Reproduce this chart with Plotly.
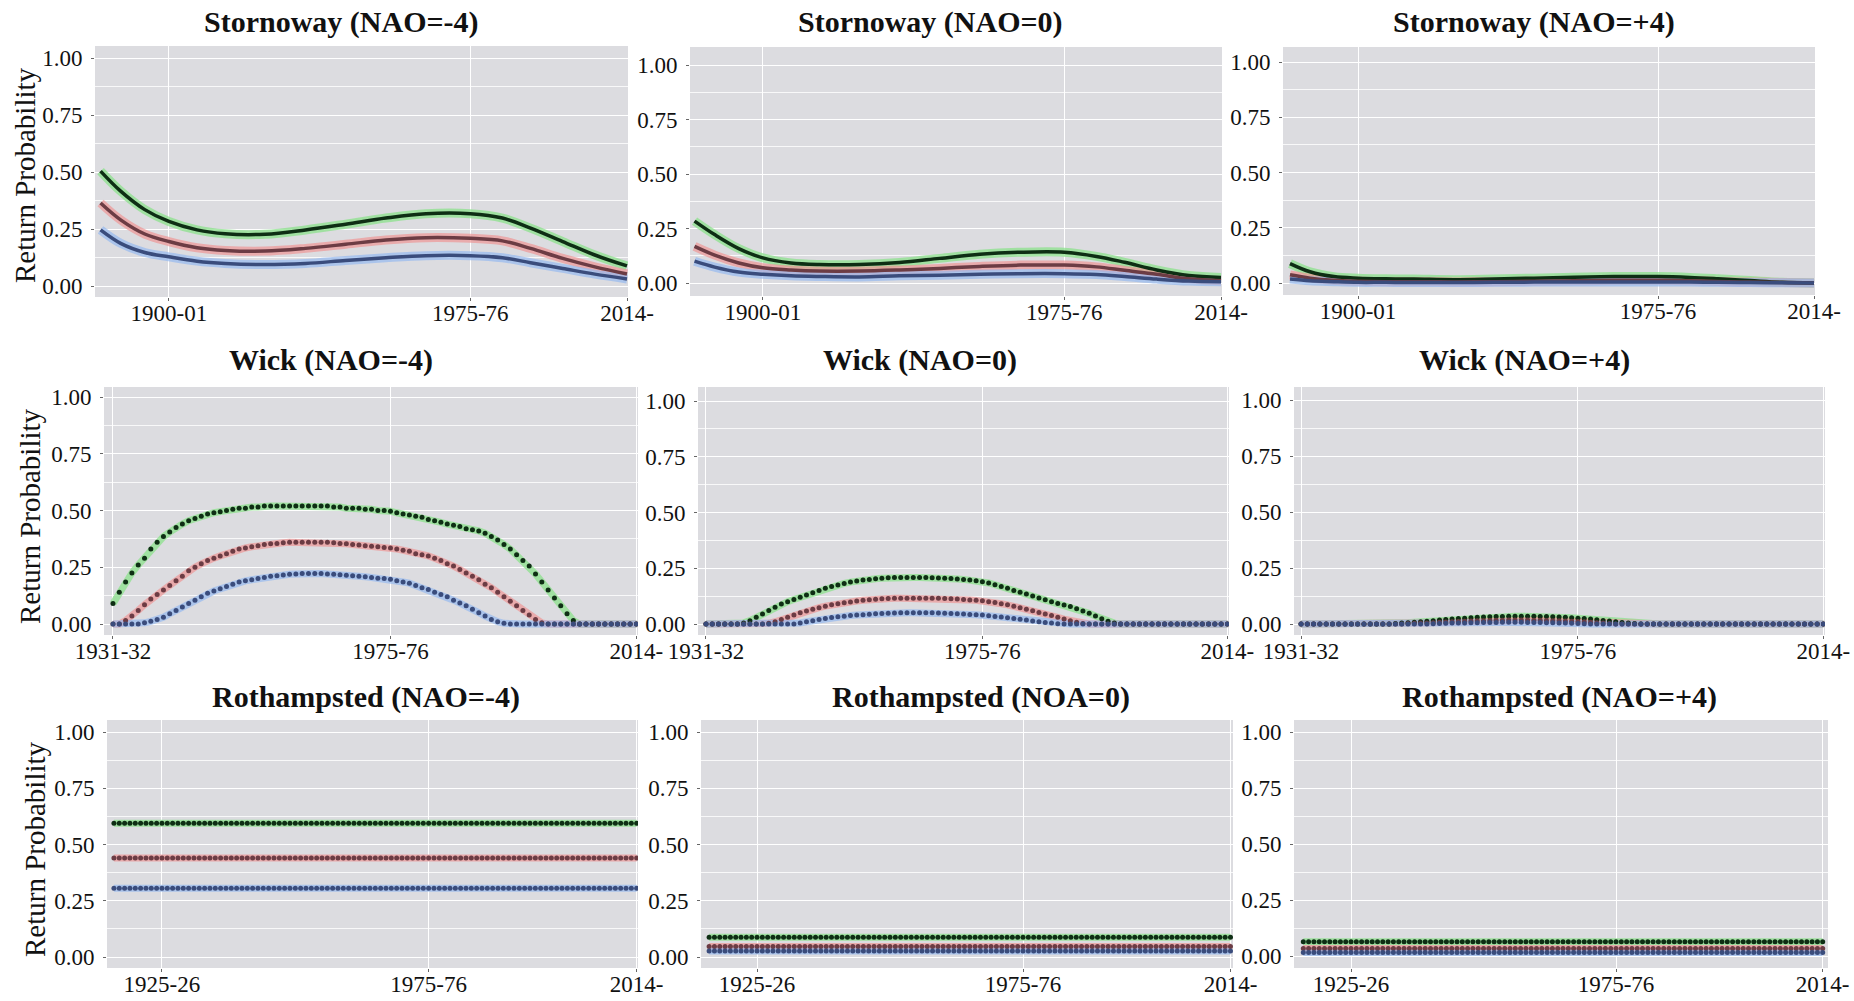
import plotly.graph_objects as go

W, H = 1854, 1001

# ------------------------------------------------------------------ data
# Stornoway: smooth curves, values read at selected seasons
STORN_YEARS = [1883, 1888, 1894, 1900, 1907, 1914, 1924, 1934, 1944, 1954,
               1964, 1975, 1983, 1990, 1998, 2006, 2014]
STORN_M4_HIGH = [0.504, 0.416, 0.335, 0.283, 0.246, 0.229, 0.227, 0.246, 0.271, 0.298,
                 0.317, 0.317, 0.298, 0.254, 0.195, 0.136, 0.088]
STORN_M4_MID = [0.364, 0.290, 0.228, 0.195, 0.168, 0.156, 0.153, 0.165, 0.183, 0.202,
                0.212, 0.209, 0.198, 0.165, 0.121, 0.084, 0.053]
STORN_M4_LOW = [0.246, 0.187, 0.147, 0.128, 0.109, 0.099, 0.094, 0.099, 0.112, 0.124,
                0.133, 0.133, 0.124, 0.102, 0.077, 0.052, 0.031]
STORN_0_HIGH = [0.284, 0.222, 0.158, 0.115, 0.092, 0.085, 0.085, 0.094, 0.113, 0.132,
                0.141, 0.141, 0.122, 0.095, 0.060, 0.034, 0.025]
STORN_0_MID = [0.168, 0.128, 0.092, 0.070, 0.060, 0.055, 0.055, 0.060, 0.067, 0.076,
               0.082, 0.082, 0.074, 0.058, 0.040, 0.019, 0.010]
STORN_0_LOW = [0.100, 0.073, 0.050, 0.040, 0.033, 0.030, 0.028, 0.033, 0.036, 0.040,
               0.043, 0.043, 0.039, 0.030, 0.018, 0.009, 0.006]
STORN_P4_HIGH = [0.088, 0.051, 0.029, 0.022, 0.019, 0.018, 0.015, 0.018, 0.022, 0.026,
                 0.029, 0.029, 0.025, 0.019, 0.011, 0.003, 0.000]
STORN_P4_MID = [0.037, 0.022, 0.012, 0.008, 0.006, 0.006, 0.005, 0.006, 0.008, 0.010,
                0.012, 0.012, 0.010, 0.007, 0.004, 0.002, 0.000]
STORN_P4_LOW = [0.018, 0.010, 0.006, 0.003, 0.003, 0.002, 0.002, 0.003, 0.004, 0.005,
                0.005, 0.005, 0.004, 0.003, 0.002, 0.001, 0.000]

# Wick: one point per season, 1931-32 .. 2014-15
WICK_YEARS = list(range(1931, 2015))
WICK_M4_HIGH = [
    0.09, 0.14, 0.185, 0.225, 0.26, 0.29, 0.33, 0.36, 0.385, 0.405,
    0.425, 0.44, 0.455, 0.465, 0.475, 0.485, 0.49, 0.495, 0.50, 0.505,
    0.51, 0.51, 0.515, 0.515, 0.52, 0.52, 0.52, 0.52, 0.52, 0.52,
    0.52, 0.52, 0.52, 0.52, 0.52, 0.515, 0.515, 0.51, 0.51, 0.51,
    0.505, 0.505, 0.50, 0.50, 0.497, 0.49, 0.485, 0.48, 0.475, 0.47,
    0.46, 0.455, 0.448, 0.44, 0.435, 0.43, 0.42, 0.415, 0.41, 0.40,
    0.385, 0.37, 0.35, 0.33, 0.305, 0.28, 0.255, 0.22, 0.185, 0.15,
    0.115, 0.08, 0.045, 0.015, 0, 0, 0, 0, 0, 0,
    0, 0, 0, 0]
WICK_M4_MID = [
    0, 0, 0.015, 0.035, 0.06, 0.085, 0.11, 0.13, 0.15, 0.17,
    0.19, 0.21, 0.235, 0.25, 0.265, 0.28, 0.29, 0.30, 0.31, 0.32,
    0.33, 0.335, 0.34, 0.345, 0.35, 0.353, 0.355, 0.358, 0.36, 0.36,
    0.36, 0.36, 0.36, 0.36, 0.36, 0.358, 0.355, 0.353, 0.35, 0.348,
    0.345, 0.342, 0.34, 0.337, 0.335, 0.33, 0.325, 0.32, 0.31, 0.305,
    0.30, 0.29, 0.28, 0.265, 0.255, 0.24, 0.225, 0.21, 0.195, 0.175,
    0.16, 0.14, 0.12, 0.10, 0.08, 0.06, 0.04, 0.02, 0.005, 0,
    0, 0, 0, 0, 0, 0, 0, 0, 0, 0,
    0, 0, 0, 0]
WICK_M4_LOW = [
    0, 0, 0, 0, 0, 0.005, 0.012, 0.02, 0.03, 0.045,
    0.06, 0.075, 0.09, 0.105, 0.12, 0.135, 0.145, 0.155, 0.165, 0.175,
    0.185, 0.19, 0.195, 0.20, 0.205, 0.21, 0.213, 0.216, 0.219, 0.22,
    0.222, 0.222, 0.222, 0.222, 0.22, 0.219, 0.217, 0.215, 0.213, 0.21,
    0.208, 0.205, 0.202, 0.20, 0.197, 0.19, 0.185, 0.18, 0.17, 0.16,
    0.152, 0.14, 0.13, 0.12, 0.105, 0.092, 0.08, 0.065, 0.05, 0.035,
    0.02, 0.01, 0.003, 0, 0, 0, 0, 0, 0, 0,
    0, 0, 0, 0, 0, 0, 0, 0, 0, 0,
    0, 0, 0, 0]
WICK_0_HIGH = [
    0, 0, 0, 0, 0, 0, 0.005, 0.015, 0.03, 0.045,
    0.06, 0.075, 0.09, 0.10, 0.11, 0.12, 0.13, 0.14, 0.15, 0.16,
    0.168, 0.175, 0.182, 0.188, 0.193, 0.197, 0.20, 0.203, 0.205, 0.207,
    0.208, 0.208, 0.208, 0.208, 0.208, 0.208, 0.207, 0.206, 0.205, 0.204,
    0.202, 0.20, 0.197, 0.194, 0.19, 0.184, 0.176, 0.168, 0.16, 0.15,
    0.142, 0.134, 0.125, 0.117, 0.109, 0.10, 0.092, 0.085, 0.078, 0.068,
    0.058, 0.048, 0.036, 0.024, 0.012, 0.004, 0, 0, 0, 0,
    0, 0, 0, 0, 0, 0, 0, 0, 0, 0,
    0, 0, 0, 0]
WICK_0_MID = [
    0, 0, 0, 0, 0, 0, 0, 0, 0, 0,
    0.003, 0.01, 0.02, 0.03, 0.04, 0.05, 0.058, 0.066, 0.073, 0.08,
    0.086, 0.091, 0.095, 0.099, 0.103, 0.106, 0.109, 0.111, 0.113, 0.114,
    0.115, 0.115, 0.115, 0.115, 0.115, 0.115, 0.115, 0.115, 0.114, 0.113,
    0.112, 0.11, 0.108, 0.106, 0.104, 0.10, 0.096, 0.091, 0.086, 0.08,
    0.073, 0.066, 0.059, 0.052, 0.045, 0.038, 0.03, 0.022, 0.015, 0.008,
    0.002, 0, 0, 0, 0, 0, 0, 0, 0, 0,
    0, 0, 0, 0, 0, 0, 0, 0, 0, 0,
    0, 0, 0, 0]
WICK_0_LOW = [
    0, 0, 0, 0, 0, 0, 0, 0, 0, 0,
    0, 0, 0, 0, 0, 0.005, 0.01, 0.015, 0.02, 0.025,
    0.029, 0.032, 0.035, 0.038, 0.04, 0.042, 0.044, 0.046, 0.047, 0.048,
    0.049, 0.05, 0.05, 0.05, 0.05, 0.05, 0.05, 0.049, 0.048, 0.047,
    0.046, 0.045, 0.043, 0.041, 0.04, 0.037, 0.034, 0.031, 0.028, 0.025,
    0.021, 0.018, 0.014, 0.01, 0.007, 0.004, 0.001, 0, 0, 0,
    0, 0, 0, 0, 0, 0, 0, 0, 0, 0,
    0, 0, 0, 0, 0, 0, 0, 0, 0, 0,
    0, 0, 0, 0]
WICK_P4_HIGH = [
    0, 0, 0, 0, 0, 0, 0, 0, 0, 0,
    0, 0, 0, 0, 0, 0.002, 0.004, 0.006, 0.008, 0.01,
    0.012, 0.015, 0.018, 0.02, 0.022, 0.024, 0.026, 0.028, 0.03, 0.031,
    0.032, 0.033, 0.034, 0.035, 0.035, 0.035, 0.035, 0.035, 0.034, 0.033,
    0.032, 0.031, 0.03, 0.028, 0.026, 0.024, 0.022, 0.019, 0.016, 0.013,
    0.01, 0.007, 0.004, 0.002, 0, 0, 0, 0, 0, 0,
    0, 0, 0, 0, 0, 0, 0, 0, 0, 0,
    0, 0, 0, 0, 0, 0, 0, 0, 0, 0,
    0, 0, 0, 0]
WICK_P4_MID = [
    0, 0, 0, 0, 0, 0, 0, 0, 0, 0,
    0, 0, 0, 0, 0, 0, 0, 0.002, 0.003, 0.004,
    0.005, 0.006, 0.008, 0.009, 0.01, 0.011, 0.012, 0.013, 0.014, 0.015,
    0.016, 0.017, 0.017, 0.018, 0.018, 0.018, 0.018, 0.017, 0.017, 0.016,
    0.015, 0.014, 0.013, 0.012, 0.011, 0.01, 0.008, 0.006, 0.004, 0.002,
    0, 0, 0, 0, 0, 0, 0, 0, 0, 0,
    0, 0, 0, 0, 0, 0, 0, 0, 0, 0,
    0, 0, 0, 0, 0, 0, 0, 0, 0, 0,
    0, 0, 0, 0]
WICK_P4_LOW = [
    0, 0, 0, 0, 0, 0, 0, 0, 0, 0,
    0, 0, 0, 0, 0, 0, 0, 0, 0, 0,
    0, 0.001, 0.002, 0.003, 0.004, 0.005, 0.005, 0.006, 0.006, 0.007,
    0.007, 0.007, 0.008, 0.008, 0.008, 0.008, 0.007, 0.007, 0.007, 0.006,
    0.006, 0.005, 0.004, 0.003, 0.002, 0.001, 0, 0, 0, 0,
    0, 0, 0, 0, 0, 0, 0, 0, 0, 0,
    0, 0, 0, 0, 0, 0, 0, 0, 0, 0,
    0, 0, 0, 0, 0, 0, 0, 0, 0, 0,
    0, 0, 0, 0]

# Rothampsted: constant return probability across seasons
ROTH_YEARS = list(range(1916, 2015))
ROTH_M4_LEVELS = [0.594, 0.440, 0.306]   # high, mid, low
ROTH_0_LEVELS = [0.088, 0.047, 0.027]
ROTH_P4_LEVELS = [0.064, 0.034, 0.016]

TITLES = ["Stornoway (NAO=-4)", "Stornoway (NAO=0)", "Stornoway (NAO=+4)",
          "Wick (NAO=-4)", "Wick (NAO=0)", "Wick (NAO=+4)",
          "Rothampsted (NAO=-4)", "Rothampsted (NOA=0)", "Rothampsted (NAO=+4)"]
STORN_TICKS, STORN_TICKTEXT = [1900, 1975, 2014], ["1900-01", "1975-76", "2014-"]
WICK_TICKS, WICK_TICKTEXT = [1931, 1975, 2014], ["1931-32", "1975-76", "2014-"]
ROTH_TICKS, ROTH_TICKTEXT = [1925, 1975, 2014], ["1925-26", "1975-76", "2014-"]
Y_TICKS = [0, 0.25, 0.5, 0.75, 1.0]
Y_TICKTEXT = ["0.00", "0.25", "0.50", "0.75", "1.00"]
Y_TITLE = "Return Probability"

# ------------------------------------------------------------------ series per panel
def roth(levels):
    return [[lv] * len(ROTH_YEARS) for lv in levels]

PANEL_DATA = [
    ("line", STORN_YEARS, [STORN_M4_HIGH, STORN_M4_MID, STORN_M4_LOW], STORN_TICKS, STORN_TICKTEXT),
    ("line", STORN_YEARS, [STORN_0_HIGH, STORN_0_MID, STORN_0_LOW], STORN_TICKS, STORN_TICKTEXT),
    ("line", STORN_YEARS, [STORN_P4_HIGH, STORN_P4_MID, STORN_P4_LOW], STORN_TICKS, STORN_TICKTEXT),
    ("dots", WICK_YEARS, [WICK_M4_HIGH, WICK_M4_MID, WICK_M4_LOW], WICK_TICKS, WICK_TICKTEXT),
    ("dots", WICK_YEARS, [WICK_0_HIGH, WICK_0_MID, WICK_0_LOW], WICK_TICKS, WICK_TICKTEXT),
    ("dots", WICK_YEARS, [WICK_P4_HIGH, WICK_P4_MID, WICK_P4_LOW], WICK_TICKS, WICK_TICKTEXT),
    ("dots", ROTH_YEARS, roth(ROTH_M4_LEVELS), ROTH_TICKS, ROTH_TICKTEXT),
    ("dots", ROTH_YEARS, roth(ROTH_0_LEVELS), ROTH_TICKS, ROTH_TICKTEXT),
    ("dots", ROTH_YEARS, roth(ROTH_P4_LEVELS), ROTH_TICKS, ROTH_TICKTEXT),
]

# ------------------------------------------------------------------ layout (pixels)
# left, right, top, bottom of plot area; pixel of y=0 and y=1; two x calibration (value, px)
GEOM = [
    (95, 628, 46, 297, 286, 58, (1900, 169), (1975, 471)),
    (690, 1222, 47, 296, 283, 65, (1900, 763), (1975, 1065)),
    (1283, 1815, 47, 295, 283, 62, (1900, 1358), (1975, 1658)),
    (104, 638, 387, 635, 624, 397, (1931, 113), (1975, 391)),
    (698, 1229, 387, 635, 624, 401, (1931, 706), (1975, 984)),
    (1294, 1825, 387, 635, 624, 400, (1931, 1301), (1975, 1578)),
    (107, 638, 720, 968, 957, 732, (1925, 162), (1975, 429)),
    (701, 1233, 720, 968, 957, 732, (1925, 757), (1975, 1023)),
    (1294, 1828, 720, 968, 956, 732, (1925, 1351), (1975, 1616)),
]
TITLE_POS = [(341, 22), (930, 22), (1534, 22),
             (331, 360), (920, 360), (1524, 360),
             (366, 697), (981, 697), (1559, 697)]
YTITLE_POS = [(25, 175), (30, 516), (35, 849)]

HALO = ["rgba(140,225,140,0.75)", "rgba(238,150,150,0.7)", "rgba(150,185,240,0.7)"]
DARK = ["#0e2e14", "#6c3c44", "#3a4c7c"]
FONT = "Liberation Serif, Times New Roman, serif"
BG = "#dcdce0"
TICK_SIZE = 23

fig = go.Figure()
layout = dict(width=W, height=H, margin=dict(l=0, r=0, t=0, b=0, autoexpand=False),
              paper_bgcolor="white", plot_bgcolor=BG, showlegend=False,
              font=dict(family=FONT, color="#111"))
annotations = []

for i, (kind, years, series, xt, xtt) in enumerate(PANEL_DATA, start=1):
    L, R, T, B, y0p, y1p, (xa, pa), (xb, pb) = GEOM[i - 1]
    sx = (pb - pa) / (xb - xa)
    xr = [xa + (L - pa) / sx, max(xa + (R - pa) / sx, 2014.25)]
    sy = y0p - y1p
    yr = [(y0p - B) / sy, (y0p - T) / sy]
    xname = "xaxis" if i == 1 else f"xaxis{i}"
    yname = "yaxis" if i == 1 else f"yaxis{i}"
    xref = "x" if i == 1 else f"x{i}"
    yref = "y" if i == 1 else f"y{i}"
    layout[xname] = dict(domain=[L / W, R / W], range=xr, anchor=yref, automargin=False,
                         tickvals=xt, ticktext=xtt, showgrid=True, gridcolor="white",
                         gridwidth=1.2, zeroline=False, showline=False,
                         ticks="outside", ticklen=3, tickcolor="#666", tickwidth=1,
                         ticklabelstandoff=-8,
                         tickfont=dict(family=FONT, size=TICK_SIZE, color="#111"),
                         fixedrange=True)
    layout[yname] = dict(domain=[1 - B / H, 1 - T / H], range=yr, anchor=xref, automargin=False,
                         tickvals=Y_TICKS, ticktext=Y_TICKTEXT, showgrid=True,
                         gridcolor="white", gridwidth=1.2, zeroline=False, showline=False,
                         ticks="outside", ticklen=3, tickcolor="#666", tickwidth=1,
                         ticklabelstandoff=4,
                         tickfont=dict(family=FONT, size=TICK_SIZE, color="#111"),
                         minor=dict(tickvals=[0.125, 0.375, 0.625, 0.875], showgrid=True,
                                    gridcolor="rgba(255,255,255,0.8)", gridwidth=0.7, ticks=""),
                         fixedrange=True)
    # halos
    for k, ys in enumerate(series):
        fig.add_trace(go.Scatter(
            x=years, y=ys, xaxis=xref, yaxis=yref, mode="lines",
            line=dict(color=HALO[k], width=9 if kind == "line" else 7,
                      shape="spline" if kind == "line" else "linear"),
            hoverinfo="skip"))
    # marks
    for k, ys in enumerate(series):
        if kind == "line":
            fig.add_trace(go.Scatter(
                x=years, y=ys, xaxis=xref, yaxis=yref, mode="lines",
                line=dict(color=DARK[k], width=3.5, shape="spline")))
        else:
            fig.add_trace(go.Scatter(
                x=years, y=ys, xaxis=xref, yaxis=yref, mode="markers",
                marker=dict(color=DARK[k], size=5, line=dict(width=0))))
    tx, ty = TITLE_POS[i - 1]
    annotations.append(dict(text=f"<b>{TITLES[i - 1]}</b>", x=tx / W, y=1 - ty / H,
                            xref="paper", yref="paper", showarrow=False,
                            xanchor="center", yanchor="middle",
                            font=dict(family=FONT, size=30, color="#111")))

for (tx, ty) in YTITLE_POS:
    annotations.append(dict(text=Y_TITLE, x=tx / W, y=1 - ty / H, xref="paper", yref="paper",
                            showarrow=False, textangle=-90, xanchor="center", yanchor="middle",
                            font=dict(family=FONT, size=29, color="#111")))

layout["annotations"] = annotations
fig.update_layout(**layout)
fig.write_html("out.html")
